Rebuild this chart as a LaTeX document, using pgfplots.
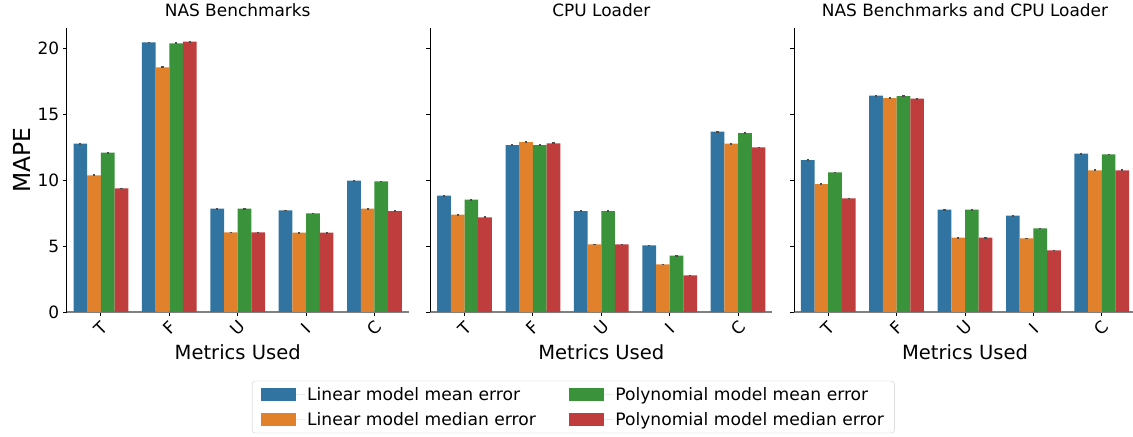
\documentclass[border=0pt]{standalone}
\usepackage{pgfplots}
\pgfplotsset{compat=1.18}
\usepackage{pgfplotstable}
\usepackage{fontspec}
\setmainfont{DejaVu Sans}
\definecolor{cA}{RGB}{49,116,161}
\definecolor{cB}{RGB}{225,129,44}
\definecolor{cC}{RGB}{58,146,58}
\definecolor{cD}{RGB}{192,61,62}

\pgfplotstableread{
x a b c d
0 12.78 10.38 12.10 9.39
1 20.46 18.58 20.40 20.53
2 7.85 6.05 7.85 6.05
3 7.72 6.03 7.49 6.03
4 9.97 7.85 9.92 7.65
}\tabNAS
\pgfplotstableread{
x a b c d
0 8.84 7.39 8.53 7.19
1 12.66 12.89 12.66 12.81
2 7.65 5.14 7.65 5.14
3 5.06 3.62 4.28 2.78
4 13.70 12.78 13.57 12.50
}\tabCPU
\pgfplotstableread{
x a b c d
0 11.52 9.70 10.60 8.63
1 16.43 16.23 16.38 16.20
2 7.77 5.65 7.77 5.65
3 7.32 5.59 6.35 4.68
4 12.03 10.76 11.97 10.76
}\tabBOTH

\pgfplotsset{
  panel/.style={
    scale only axis, width=342bp, height=284bp,
    xmin=-0.5, xmax=4.5, ymin=0, ymax=21.56,
    ybar=0pt, bar width=0.2,
    xtick={0,1,2,3,4}, xticklabels={T,F,U,I,C},
    ytick={0,5,10,15,20},
    axis x line*=bottom, axis y line*=left,
    x axis line style={draw=gray, line width=1.6bp, -},
    y axis line style={draw=black, line width=0.9bp, -},
    tick align=outside, major tick length=4bp,
    tick style={black, line width=0.9bp},
    /pgf/number format/assume math mode=true,
    tick label style={font=\fontsize{17}{20}\selectfont},
    xticklabel style={yshift=-12bp, rotate=45, anchor=center},
    xlabel={Metrics Used},
    xlabel style={font=\fontsize{19.6}{22}\selectfont, at={(axis description cs:0.5,-0.141)}, anchor=center},
    title style={font=\fontsize{17}{19}\selectfont, at={(axis description cs:0.5,1)}, anchor=base, yshift=6bp},
    clip=false,
    error bars/y dir=both, error bars/y fixed=0.06,
    error bars/error mark=none,
    error bars/error bar style={line width=2.2bp, color=black!70},
    legend image code/.code={\fill[##1, sharp corners] (0bp,-6.3bp) rectangle (35bp,6.3bp); \path (0bp,0bp) -- (44.5bp,0bp);},
  },
  sA/.style={fill=cA, draw=none, bar shift=-0.3},
  sB/.style={fill=cB, draw=none, bar shift=-0.1},
  sC/.style={fill=cC, draw=none, bar shift=0.1},
  sD/.style={fill=cD, draw=none, bar shift=0.3},
}

\begin{document}
\begin{tikzpicture}
\useasboundingbox (0,0) rectangle (1133bp,437bp);

\begin{axis}[panel, at={(66.7bp,125bp)}, anchor=south west,
  title={NAS Benchmarks},
  ylabel={MAPE},
  ylabel style={font=\fontsize{23.5}{26}\selectfont, at={(axis description cs:-0.131,0.535)}, anchor=center}]
\addplot[sA] table[x=x,y=a] {\tabNAS};
\addplot[sB] table[x=x,y=b] {\tabNAS};
\addplot[sC] table[x=x,y=c] {\tabNAS};
\addplot[sD] table[x=x,y=d] {\tabNAS};
\end{axis}

\begin{axis}[panel, at={(430.3bp,125bp)}, anchor=south west,
  title={CPU Loader}, yticklabels={},
  legend columns=2, transpose legend,
  legend style={at={(axis description cs:0.418,-0.3345)}, anchor=center,
    draw=black!20, rounded corners=3bp, inner xsep=8.5bp, inner ysep=4bp,
    font=\fontsize{17.2}{20}\selectfont, row sep=7bp,
    /tikz/every even column/.append style={column sep=31bp}},
  legend cell align=left]
\addplot[sA] table[x=x,y=a] {\tabCPU};
\addlegendentry{Linear model mean error}
\addplot[sB] table[x=x,y=b] {\tabCPU};
\addlegendentry{Linear model median error}
\addplot[sC] table[x=x,y=c] {\tabCPU};
\addlegendentry{Polynomial model mean error}
\addplot[sD] table[x=x,y=d] {\tabCPU};
\addlegendentry{Polynomial model median error}
\end{axis}

\begin{axis}[panel, at={(794bp,125bp)}, anchor=south west,
  title={NAS Benchmarks and CPU Loader}, yticklabels={}]
\addplot[sA] table[x=x,y=a] {\tabBOTH};
\addplot[sB] table[x=x,y=b] {\tabBOTH};
\addplot[sC] table[x=x,y=c] {\tabBOTH};
\addplot[sD] table[x=x,y=d] {\tabBOTH};
\end{axis}
\end{tikzpicture}
\end{document}
